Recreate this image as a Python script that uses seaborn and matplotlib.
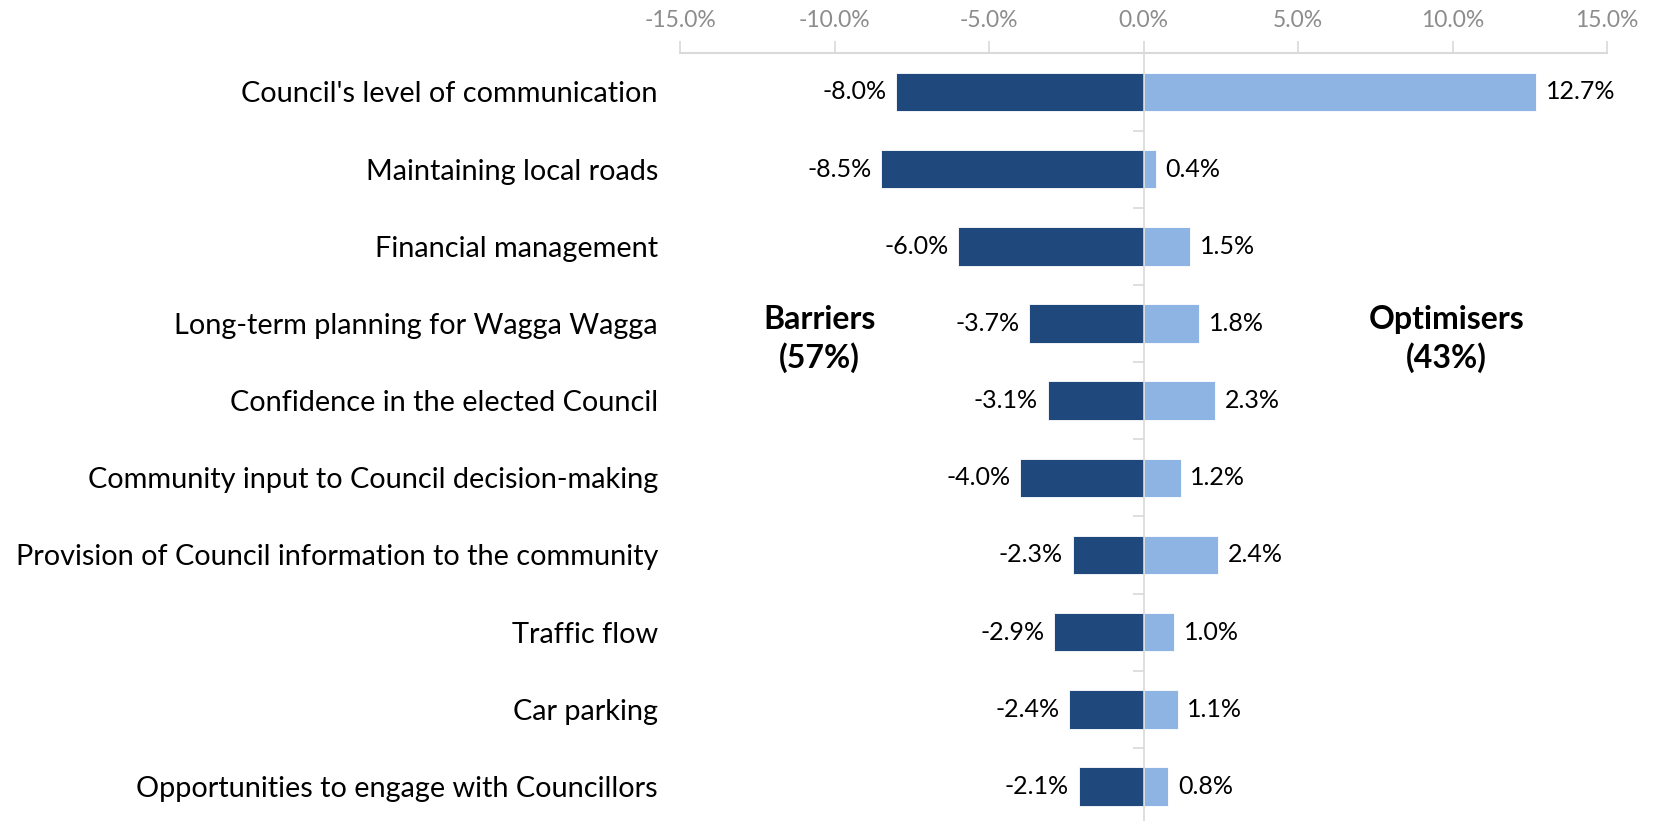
import matplotlib
matplotlib.use("Agg")
import matplotlib.pyplot as plt
import seaborn as sns
import pandas as pd
from matplotlib.ticker import FuncFormatter, FixedLocator

# Service areas, top to bottom
categories = [
    "Council's level of communication",
    "Maintaining local roads",
    "Financial management",
    "Long-term planning for Wagga Wagga",
    "Confidence in the elected Council",
    "Community input to Council decision-making",
    "Provision of Council information to the community",
    "Traffic flow",
    "Car parking",
    "Opportunities to engage with Councillors",
]
# Share of overall satisfaction change (%)
barriers = [-8.0, -8.5, -6.0, -3.7, -3.1, -4.0, -2.3, -2.9, -2.4, -2.1]
optimisers = [12.7, 0.4, 1.5, 1.8, 2.3, 1.2, 2.4, 1.0, 1.1, 0.8]
x_ticks = [-15, -10, -5, 0, 5, 10, 15]

DARK = "#1F497D"
LIGHT = "#8EB4E3"
GRID = "#D9D9D9"

sns.set_style("white")
plt.rcParams["font.family"] = ["Lato", "DejaVu Sans"]
plt.rcParams["text.color"] = "black"

df = pd.DataFrame({"category": categories,
                   "Barriers": barriers,
                   "Optimisers": optimisers})

fig = plt.figure(figsize=(16.55, 8.21), dpi=100)
ax = fig.add_axes([0.411, -0.005, 0.560, 0.940])

sns.barplot(data=df, x="Barriers", y="category", color=DARK, width=0.5,
            saturation=1, orient="h", ax=ax, edgecolor="white", linewidth=0.6)
sns.barplot(data=df, x="Optimisers", y="category", color=LIGHT, width=0.5,
            saturation=1, orient="h", ax=ax, edgecolor="white", linewidth=0.6)

for cont, vals in zip(ax.containers, [barriers, optimisers]):
    ax.bar_label(cont, labels=[f"{v:.1f}%" for v in vals], padding=7,
                 fontsize=18, color="black")

ax.set_xlim(-15, 15)
ax.set_ylim(len(categories) - 0.5, -0.5)
ax.set_xlabel("")
ax.set_ylabel("")

# Percent axis along the top
ax.xaxis.set_major_locator(FixedLocator(x_ticks))
ax.xaxis.set_major_formatter(FuncFormatter(lambda v, _: f"{v:.1f}%"))
ax.xaxis.tick_top()
ax.tick_params(axis="x", which="major", top=True, bottom=False,
               direction="out", length=9, width=1.2, color=GRID,
               labelsize=16.5, labelcolor="#8C8C8C", pad=7)
ax.tick_params(axis="y", length=0, labelsize=20.8, labelcolor="black", pad=16)

for side in ["left", "right", "bottom"]:
    ax.spines[side].set_visible(False)
ax.spines["top"].set_color(GRID)
ax.spines["top"].set_linewidth(1.5)

# Centre line at zero with row separators
ax2 = ax.twinx()
ax2.set_ylim(ax.get_ylim())
for side in ["left", "top", "bottom"]:
    ax2.spines[side].set_visible(False)
ax2.spines["right"].set_position(("data", 0))
ax2.spines["right"].set_color(GRID)
ax2.spines["right"].set_linewidth(1.2)
ax2.yaxis.set_major_locator(FixedLocator([i + 0.5 for i in range(len(categories))]))
ax2.tick_params(axis="y", direction="in", length=8, width=1.2, color=GRID,
                labelright=False)

ax.text(-10.5, 3.2, "Barriers\n(57%)", ha="center", va="center",
        fontsize=23, fontweight="bold", linespacing=1.35, color="black")
ax.text(9.8, 3.2, "Optimisers\n(43%)", ha="center", va="center",
        fontsize=23, fontweight="bold", linespacing=1.35, color="black")

fig.savefig("out.png", dpi=100)
